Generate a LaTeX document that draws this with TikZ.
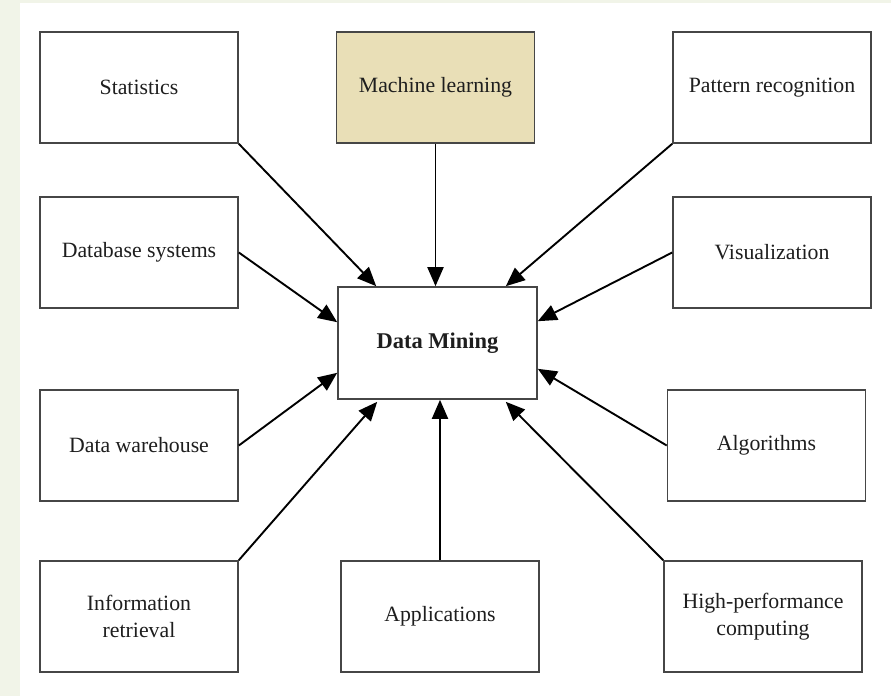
\documentclass[tikz,border=0pt]{standalone}
\usepackage{fontspec}
\setmainfont{Liberation Serif}
\usetikzlibrary{arrows.meta}
\definecolor{bgstrip}{RGB}{241,244,232}
\definecolor{mlfill}{RGB}{233,223,183}
\definecolor{boxline}{RGB}{70,70,70}
\definecolor{txt}{RGB}{30,30,30}
\begin{document}
\begin{tikzpicture}[x=1pt,y=1pt,
  box/.style={draw=boxline,line width=1.6pt,rectangle,minimum width=198pt,minimum height=111pt,inner sep=0pt,align=center,text=txt,font=\fontsize{21.8}{27.5}\selectfont},
  conn/.style={line width=1.9pt,black,-{Triangle[length=19pt,width=16pt]}}]
\useasboundingbox (0,0) rectangle (891,-696);
\fill[white] (0,0) rectangle (891,-696);
\fill[bgstrip] (0,0) rectangle (20,-696);
\fill[bgstrip] (0,0) rectangle (891,-3);
% boxes
\node[box] (stat) at (139,-87.5) {Statistics};
\node[box,fill=mlfill] (ml) at (435.5,-87.5) {Machine learning};
\node[box] (pr) at (772,-87.5) {Pattern recognition};
\node[box] (db) at (139,-252.5) {Database systems};
\node[box] (vis) at (772,-252.5) {Visualization};
\node[box,minimum width=199pt,minimum height=112pt,font=\fontsize{22.5}{27}\selectfont\bfseries] (dm) at (437.5,-343) {Data Mining};
\node[box] (dw) at (139,-445.5) {Data warehouse};
\node[box] (alg) at (766.5,-445.5) {Algorithms};
\node[box] (ir) at (139,-616.5) {Information\\retrieval};
\node[box] (app) at (440,-616.5) {Applications};
\node[box] (hpc) at (763,-616.5) {High-performance\\computing};
% connectors
\draw[conn] (stat.south east) -- ([xshift=39pt]dm.north west);
\draw[conn] (ml.south) -- (ml.south |- dm.north);
\draw[conn] (pr.south west) -- ([xshift=-32pt]dm.north east);
\draw[conn] (db.east) -- ([yshift=-36pt]dm.north west);
\draw[conn] (vis.west) -- ([yshift=-35pt]dm.north east);
\draw[conn] (dw.east) -- ([yshift=27pt]dm.south west);
\draw[conn] (alg.west) -- ([yshift=31pt]dm.south east);
\draw[conn] (ir.north east) -- ([xshift=40pt,yshift=-2pt]dm.south west);
\draw[conn] (app.north) -- (app.north |- dm.south);
\draw[conn] (hpc.north west) -- ([xshift=-32pt,yshift=-2pt]dm.south east);
\end{tikzpicture}
\end{document}
